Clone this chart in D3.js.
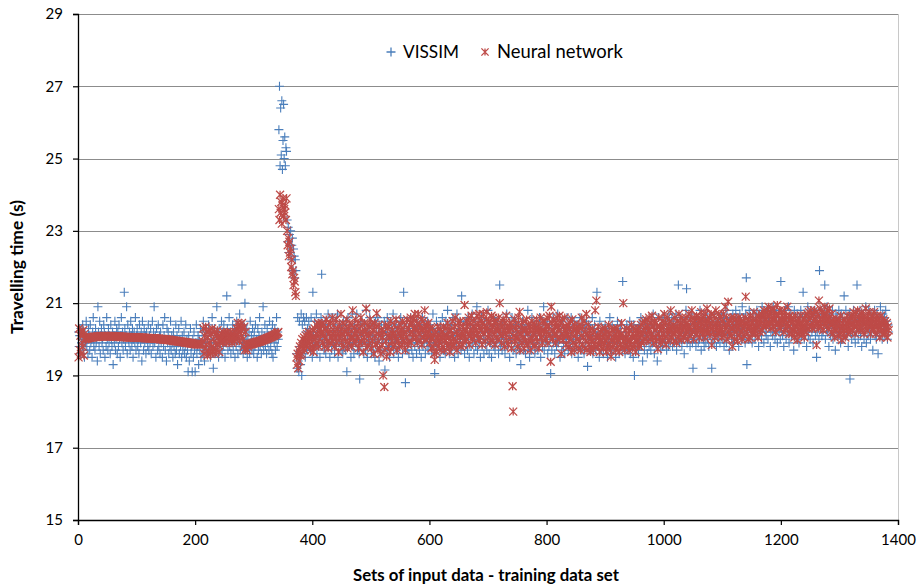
<!DOCTYPE html>
<html><head><meta charset="utf-8">
<script src="https://cdn.jsdelivr.net/npm/d3@7"></script>
<style>body{margin:0;background:#fff}svg{display:block}</style>
</head><body><svg id="chart" width="921" height="587"></svg>
<script>
// ---- data ----
const seriesNames = ["VISSIM", "Neural network"];
const xTicks = [0, 200, 400, 600, 800, 1000, 1200, 1400];
const yTicks = [15, 17, 19, 21, 23, 25, 27, 29];

const vissimA = [
20.2,19.8,20.1,19.6,20.3,19.9,20.0,20.4,19.7,20.1,19.5,20.2,19.9,20.5,19.8,20.0,19.6,20.3,20.1,19.7,
20.4,19.9,20.0,19.5,20.2,20.6,19.8,20.1,19.7,20.3,19.9,20.0,19.4,20.9,20.2,19.8,20.5,19.6,20.1,20.3,
19.9,20.0,19.7,20.4,20.2,19.5,20.1,19.8,20.6,20.0,19.7,20.3,19.9,20.1,19.6,20.4,20.0,19.8,20.2,19.3,
20.1,19.9,20.5,19.7,20.0,20.3,19.6,20.2,19.8,20.4,20.0,19.5,20.1,20.6,19.9,20.2,19.7,20.0,21.3,20.3,
19.8,20.1,20.9,19.6,20.4,20.0,19.9,20.2,19.7,20.5,20.1,19.8,20.3,19.5,20.0,20.2,19.9,20.6,19.7,20.1,
20.3,19.8,20.0,19.6,20.4,20.1,19.9,20.2,19.4,20.5,20.0,19.7,20.3,19.9,20.1,19.6,20.2,20.0,19.8,20.4,
19.7,20.1,19.9,20.3,19.6,20.0,20.5,19.8,20.2,20.9,19.9,20.1,19.5,20.3,20.0,19.7,20.4,19.8,20.1,19.6,
20.2,19.9,20.0,19.5,20.4,19.8,20.1,20.6,19.7,20.0,19.4,20.3,19.9,20.2,19.6,20.0,19.8,20.5,19.7,20.1,
19.9,19.5,20.2,19.8,20.0,19.6,20.4,19.7,20.1,19.3,19.9,20.3,19.6,20.0,19.8,20.5,19.5,20.1,19.7,19.9,
20.2,19.6,19.8,20.4,19.5,20.0,19.7,19.1,20.1,19.4,19.9,20.3,19.6,19.8,19.1,20.0,19.5,20.2,19.7,19.1,
19.9,20.4,19.6,19.8,20.1,19.3,20.0,19.7,20.3,19.5,19.9,20.2,19.6,20.5,19.8,19.4,20.1,19.9,20.3,19.6,
20.0,19.7,20.4,19.8,20.2,19.5,20.1,19.9,20.6,19.7,19.2,20.0,20.3,19.6,19.9,20.2,20.9,19.8,20.1,19.5,
20.3,19.9,20.0,19.7,20.5,19.6,20.2,19.8,20.4,20.0,19.5,20.1,19.9,21.2,20.3,19.7,20.0,20.6,19.8,20.2,
19.6,20.1,19.9,20.4,19.7,20.0,20.3,19.5,20.2,19.8,20.5,20.0,19.6,20.1,19.9,20.7,19.7,20.2,19.8,21.5,
20.0,19.6,20.4,19.9,21.0,19.7,20.1,20.3,19.5,20.0,19.8,20.2,19.6,20.5,19.9,20.1,19.7,20.3,20.0,19.6,
20.2,19.8,20.4,19.9,20.0,19.5,20.3,19.7,20.1,20.6,19.8,20.0,19.6,20.2,19.9,20.9,19.7,20.1,20.4,19.8,
20.0,19.6,20.3,19.9,20.1,19.7,20.5,20.0,19.8,20.2,19.6,20.4,19.5,20.1,19.9,20.3,19.7,20.0,20.6,19.8,
20.2,20.0];
const vissimPeak = [
25.8,27.0,24.8,26.4,25.1,26.6,24.7,25.5,26.5,25.0,25.6,24.8,25.3,25.2,
23.3,22.7,23.1,22.4,22.9,22.6,23.0,22.2,22.6,22.8,21.9,22.5,22.3,21.7,22.2,21.9,
19.6,19.2,20.6,19.4,19.1,20.5,19.8,19.3,20.7,19.0,20.4,19.6,20.6,19.9,20.5,19.5,20.2,20.6,19.7,20.3,20.0,20.5,19.8];
const vissimB = [
20.3,19.7,20.6,20.0,19.5,21.3,20.2,19.8,20.5,19.9,20.1,20.7,19.6,20.3,20.0,19.8,20.4,19.5,20.2,20.6,
21.8,19.9,20.1,20.4,19.7,20.0,20.5,19.6,20.2,19.9,20.3,20.7,19.8,20.1,19.5,20.4,20.0,19.7,20.6,20.2,
19.9,20.3,19.6,20.1,20.5,19.8,20.0,20.7,19.5,20.2,19.9,20.4,20.1,19.7,20.3,20.0,19.6,20.5,19.8,20.2,
20.0,19.7,20.4,19.1,20.1,20.6,19.8,20.3,19.9,20.0,19.5,20.2,20.7,19.8,20.1,19.6,20.4,20.0,19.9,20.3,
20.7,19.7,20.2,20.0,19.6,18.9,20.4,19.8,20.1,20.5,19.9,20.2,19.6,20.0,20.4,19.7,20.8,20.1,19.5,20.3,
19.9,20.2,20.6,19.8,20.0,19.6,20.4,20.1,19.7,20.3,20.0,19.5,20.5,19.9,20.2,19.8,20.6,20.0,19.4,20.3,
20.1,19.7,20.4,19.9,20.2,19.6,20.0,20.5,19.15,20.3,19.8,20.1,20.6,19.7,20.0,20.4,19.5,20.2,19.9,20.3,
19.8,20.1,20.7,19.6,20.0,20.3,19.9,20.5,19.7,20.2,20.0,19.5,20.4,19.8,20.1,20.6,19.9,20.2,19.6,20.0,
21.3,20.3,19.8,18.8,20.1,20.5,19.7,20.0,20.3,19.6,20.2,19.9,20.6,20.0,19.7,20.4,19.5,20.1,20.3,19.8,
20.2,20.0,19.6,20.5,19.9,20.3,20.1,19.7,20.4,20.0,19.5,20.2,20.6,19.8,20.1,19.9,20.4,19.6,20.3,20.0,
19.8,20.5,20.2,19.7,20.0,20.4,19.9,20.1,19.6,20.3,20.7,19.8,20.0,19.05,20.2,19.9,20.5,19.7,20.1,20.3,
19.9,20.2,19.5,20.4,20.0,19.8,20.6,20.1,19.7,20.3,20.0,19.6,20.5,19.9,20.2,20.8,19.8,20.1,19.6,20.4,
20.0,20.3,19.7,20.1,20.6,19.9,20.2,19.5,20.4,20.0,19.8,20.7,20.1,19.6,20.3,19.9,20.5,20.0,19.7,21.2,
20.2,19.8,20.4,20.0,19.6,20.5,20.1,19.9,20.3,19.7,20.6,20.0,19.5,20.2,20.4,19.8,20.1,20.7,19.9,20.3,
19.6,20.0,20.5,19.8,20.2,20.9,19.7,20.1,20.4,19.9,20.0,19.5,20.3,20.6,19.8,20.2,20.0,19.6,20.5,20.1,
19.9,20.3,19.7,20.0,20.8,20.2,19.6,20.4,19.9,20.1,19.5,20.3,20.0,20.6,19.8,20.2,19.7,20.5,20.0,19.9,
20.4,20.1,19.6,20.3,21.5,19.8,20.2,20.0,19.7,20.5,20.1,19.9,20.4,19.6,20.2,20.0,20.7,19.8,20.3,19.9,
20.1,19.5,20.4,20.0,19.8,20.6,20.2,19.7,20.3,19.9,20.0,20.5,19.6,20.2,20.1,19.8,20.4,20.0,19.7,20.3,
19.3,20.2,19.9,20.5,20.0,19.7,20.3,20.1,19.6,20.4,19.9,20.2,20.8,19.8,20.0,19.5,20.3,20.1,19.7,20.6,
20.0,19.9,20.2,20.4,19.6,20.1,19.8,20.5,20.0,19.7,20.3,19.9,20.6,20.1,19.5,20.2,20.0,19.8,20.4,20.9,
19.7,20.1,20.3,19.9,20.0,20.5,19.6,20.2,19.8,20.4,20.0,19.05,20.3,19.7,20.1,20.6,19.9,20.2,19.6,20.0,
20.4,19.8,20.1,20.7,19.9,20.3,20.0,19.5,20.2,20.5,19.7,20.0,20.4,19.8,20.1,19.6,20.3,20.0,19.9,20.6,
20.2,19.7,20.0,20.4,19.8,20.1,20.6,19.6,20.3,19.9,20.0,20.5,19.7,20.2,20.0,19.8,20.4,20.1,19.5,20.3,
19.9,20.6,20.0,19.7,20.2,20.4,19.8,20.1,19.6,20.3,20.0,19.9,20.5,20.2,19.25,20.0,20.4,19.7,20.1,20.3,
19.8,20.0,20.6,19.6,20.2,19.9,20.4,20.0,19.7,20.1,21.3,19.8,20.3,20.0,19.5,20.5,19.9,20.2,19.7,20.0,
20.3,19.6,20.1,19.9,20.4,19.7,20.0,20.2,19.5,20.3,19.9,20.1,20.6,19.8,20.0,19.6,20.4,19.9,20.2,19.7,
20.0,20.3,19.5,20.1,19.8,20.5,19.9,20.0,19.6,20.2,20.4,19.8,20.1,19.7,21.6,20.0,19.9,20.3,19.6,20.1,
19.8,20.4,20.0,19.7,20.2,19.9,20.5,19.6,20.0,20.3,19.8,20.1,19.5,20.4,19.0,19.9,20.2,20.0,19.7,20.3,
20.1,19.6,20.4,19.9,20.0,20.6,19.8,20.2,19.4,20.3,20.0,19.7,20.1,20.5,19.9,20.2,19.6,20.4,20.0,19.8,
20.3,20.1,19.7,20.5,20.0,19.9,20.7,20.2,19.6,20.4,20.0,19.8,20.3,19.4,20.1,20.6,19.9,20.2,20.0,19.7,
20.4,20.1,19.8,20.6,20.3,19.9,20.2,20.0,20.5,19.7,20.3,20.1,19.8,20.7,20.2,19.9,20.4,20.0,20.6,19.8,
20.2,20.5,19.9,20.3,20.1,20.7,19.7,20.4,20.0,21.5,20.2,19.9,20.6,20.1,20.3,19.8,20.5,20.0,20.2,19.6,
20.4,20.1,20.8,21.4,19.9,20.3,20.0,20.6,20.2,19.8,20.4,20.1,20.7,19.9,19.2,20.3,20.0,20.5,20.2,19.8,
20.6,20.1,20.3,19.9,20.5,20.0,20.8,20.2,19.7,20.4,20.1,20.6,20.0,19.8,20.3,20.5,19.9,20.2,20.7,20.0,
20.3,19.8,20.5,20.1,20.2,20.6,19.2,20.4,20.0,20.3,19.9,20.7,20.2,20.5,19.8,20.1,20.4,20.0,20.6,20.2,
19.9,20.4,20.1,20.7,20.3,20.0,20.5,19.8,20.6,20.2,20.4,19.9,20.8,20.1,20.3,20.5,19.7,20.4,20.2,20.6,
20.0,20.3,20.7,19.9,20.5,20.2,20.4,20.8,20.0,20.6,20.1,20.3,19.8,20.5,20.7,20.2,20.4,20.0,20.9,20.3,
20.6,20.1,20.4,19.9,20.7,21.7,19.3,20.2,20.5,20.0,20.8,20.3,20.6,20.1,20.4,19.9,20.7,20.2,20.5,20.3,
20.0,20.6,20.4,20.8,20.1,20.3,19.8,20.5,20.7,20.2,20.4,20.0,20.9,20.3,20.6,19.9,20.5,20.2,20.7,20.1,
20.4,20.8,20.0,20.6,20.3,20.5,19.8,20.2,20.7,20.4,20.1,20.9,20.3,20.6,20.0,20.5,20.2,20.8,19.9,20.4,
20.6,20.2,20.5,20.0,21.6,20.3,20.7,20.1,20.4,19.8,20.6,20.3,20.8,20.0,20.5,20.2,20.4,20.9,19.9,20.6,
20.3,20.7,20.1,20.5,20.2,20.4,19.7,20.8,20.3,20.6,20.0,20.4,20.7,20.2,20.5,19.9,20.6,20.3,20.8,20.1,
20.4,20.6,21.3,20.2,20.0,20.7,20.3,20.5,19.8,20.4,20.9,20.1,20.6,20.3,20.0,20.5,20.7,20.2,20.4,19.9,
20.6,20.3,20.8,20.1,20.5,19.5,20.2,20.7,20.4,20.0,21.9,20.6,20.3,20.8,20.1,20.5,20.2,20.7,20.4,21.5,
20.0,20.6,20.3,20.9,20.2,20.5,19.8,20.7,20.4,20.1,20.6,20.3,20.8,20.0,20.5,20.2,20.4,19.7,20.7,20.3,
20.6,20.1,20.4,20.8,20.2,20.5,19.9,20.7,20.3,20.6,20.0,20.4,21.2,20.2,20.5,20.8,20.1,20.3,20.6,19.8,
20.4,20.7,18.9,20.2,20.5,20.0,20.6,20.3,20.8,20.1,20.4,19.9,20.7,20.2,21.5,20.5,20.0,20.6,20.3,20.8,
20.1,20.4,19.8,20.6,20.3,20.7,20.0,20.5,20.2,20.9,19.9,20.4,20.6,20.1,20.8,20.3,20.5,20.0,20.7,20.2,
20.4,19.7,20.6,20.3,20.8,20.1,20.5,20.0,20.7,20.2,19.6,20.4,20.6,20.1,20.9,20.3,20.5,20.0,20.7,20.2,
20.4,20.6,20.1,20.8,20.3,20.5,20.0,20.4,20.2];

const nnA = [
19.5,20.3,19.7,20.1,19.6,20.2,19.9,19.8,20.25,19.55,20.15,20.0,
20.02,20.03,20.02,20.04,20.03,20.04,20.05,20.04,20.05,20.05,20.06,20.05,20.06,20.06,20.07,20.06,20.07,20.07,20.06,20.07,
20.08,20.07,20.08,20.07,20.08,20.08,20.09,20.08,20.08,20.09,20.08,20.09,20.08,20.09,20.09,20.08,20.09,20.08,20.09,20.08,
20.09,20.08,20.08,20.09,20.08,20.08,20.09,20.08,20.08,20.07,20.08,20.08,20.07,20.08,20.07,20.08,20.07,20.07,20.08,20.07,
20.07,20.06,20.07,20.07,20.06,20.07,20.06,20.06,20.07,20.06,20.06,20.05,20.06,20.06,20.05,20.06,20.05,20.05,20.06,20.05,
20.06,20.05,20.06,20.05,20.06,20.05,20.05,20.06,20.05,20.05,20.04,20.05,20.05,20.04,20.05,20.04,20.04,20.05,20.04,20.04,
20.04,20.03,20.04,20.03,20.04,20.03,20.03,20.04,20.03,20.03,20.02,20.03,20.03,20.02,20.03,20.02,20.02,20.03,20.02,20.02,
20.02,20.01,20.02,20.01,20.01,20.02,20.01,20.00,20.01,20.00,20.00,20.01,20.00,19.99,20.00,19.99,19.99,20.00,19.99,19.98,
19.99,19.98,19.98,19.99,19.98,19.97,19.98,19.97,19.97,19.96,19.97,19.96,19.96,19.95,19.96,19.95,19.95,19.94,19.95,19.94,
19.94,19.93,19.94,19.93,19.93,19.92,19.93,19.92,19.92,19.91,19.92,19.91,19.91,19.90,19.91,19.90,19.90,19.89,19.90,19.89,
19.89,19.88,19.89,19.88,19.88,19.87,19.88,19.87,19.87,19.86,19.87,19.86,19.86,19.87,19.86,19.86,19.87,19.86,19.86,19.87,
19.95,20.3,19.6,20.1,19.75,20.35,19.85,20.2,19.55,20.05,19.7,20.25,19.9,19.6,20.15,19.8,20.3,19.65,20.0,19.75,
20.2,19.6,19.9,20.1,19.7,20.25,19.85,20.05,19.65,19.95,
20.1,19.95,20.15,20.05,19.9,20.2,20.0,20.1,19.95,20.15,20.05,19.9,20.2,20.1,20.0,20.15,19.95,20.05,20.2,20.1,
19.9,20.0,20.15,20.05,19.95,20.1,20.2,20.0,
20.3,20.1,20.45,20.2,20.35,19.95,20.4,20.25,20.1,20.45,20.3,20.0,19.8,20.35,19.7,20.2,19.75,19.85,19.7,19.8,
19.84,19.86,19.85,19.87,19.86,19.88,19.87,19.89,19.88,19.9,19.89,19.91,19.9,19.92,19.91,19.93,19.92,19.94,19.93,19.95,
19.94,19.96,19.95,19.97,19.97,19.98,19.99,19.98,20.0,20.01,20.0,20.02,20.03,20.02,20.04,20.05,20.04,20.06,20.07,20.06,
20.08,20.09,20.1,20.09,20.11,20.12,20.13,20.14,20.15,20.17,20.18,20.2];
const nnPeak = [
23.6,23.3,24.0,23.5,23.8,23.2,23.7,23.9,23.4,23.6,23.5,23.7,23.3,23.9,
23.0,22.6,22.8,22.3,22.7,22.4,22.5,22.0,22.2,21.8,21.9,21.5,21.7,21.6,21.3,21.2,
19.5,19.3,19.6,19.2,19.7,19.4,19.8,19.55,19.9,19.6,20.0,19.75,19.85,20.05,19.7,19.95,20.1,19.8,20.15,19.9,20.05,20.2,19.95];
const nnB = [
19.85,20.15,19.7,20.05,19.8,20.25,19.65,20.0,20.3,19.8,20.05,20.4,19.9,20.15,20.45,19.8,20.25,20.0,20.4,20.15,
20.22,20.45,19.9,20.15,20.4,19.8,20.3,20.05,20.55,19.95,20.22,19.75,20.4,20.15,19.9,20.45,20.22,20.05,20.6,19.95,
20.15,20.4,19.8,20.22,20.05,20.55,19.9,20.3,20.15,19.65,20.4,20.05,20.22,20.7,19.9,20.15,20.45,19.8,20.22,20.05,
20.4,19.95,20.22,20.55,19.75,20.15,20.3,19.9,20.45,20.05,20.22,19.8,20.4,20.8,20.05,19.9,20.3,20.15,20.55,19.95,
20.22,20.05,20.45,19.75,20.3,19.9,20.15,20.6,19.95,20.4,20.22,19.65,20.05,20.45,19.9,20.22,20.85,20.15,19.8,20.4,
20.1,20.35,19.9,20.55,20.15,19.75,20.4,19.95,20.25,19.6,20.45,20.1,19.85,20.35,20.72,19.9,19.7,20.15,20.4,19.75,
20.1,19.6,20.25,19.85,20.05,19.0,20.2,18.68,19.7,20.4,19.95,19.52,20.3,20.1,19.8,20.35,20.05,19.65,20.5,20.1,
19.95,20.25,19.8,20.15,20.4,19.85,20.1,20.55,20.0,19.7,20.3,19.95,20.15,19.8,20.4,20.1,20.25,19.85,20.5,20.0,
20.15,19.9,20.4,19.7,20.2,20.05,20.55,19.85,20.3,19.95,20.4,20.15,20.6,19.9,20.45,20.2,20.05,20.55,20.3,20.7,
20.3,20.05,20.5,19.9,20.25,20.7,20.15,20.4,19.98,20.3,20.55,19.85,20.25,20.5,20.05,20.3,20.8,20.15,20.0,20.4,
20.35,20.05,20.45,20.2,19.9,20.3,20.1,19.75,20.0,20.3,19.8,20.1,19.6,19.43,19.9,20.2,19.65,20.05,20.35,19.8,
20.1,19.9,20.3,20.0,19.7,20.2,20.05,19.8,20.35,20.1,19.7,19.98,20.3,19.9,20.1,20.45,19.8,20.05,20.25,19.65,
19.95,20.25,19.8,20.1,20.5,20.0,19.85,20.35,20.6,19.95,20.2,19.7,20.1,20.45,19.85,20.3,20.05,20.5,19.8,20.1,
20.2,19.85,20.35,20.1,20.95,19.95,20.25,20.5,20.0,20.35,20.15,20.6,19.85,20.45,20.1,20.25,20.65,20.0,20.35,20.15,
20.5,20.1,20.3,19.9,20.25,20.65,20.15,20.45,20.0,20.7,20.3,20.05,20.5,20.25,19.85,20.45,20.7,20.15,20.35,19.95,
20.25,20.55,20.75,20.3,20.05,20.5,20.15,19.9,20.45,20.25,20.65,19.98,20.35,20.6,20.15,20.45,19.85,20.25,20.5,20.05,
20.35,20.0,20.6,20.25,21.0,20.15,20.45,19.9,20.35,20.1,20.55,20.25,19.8,20.45,20.15,20.65,19.98,20.35,20.25,19.85,
20.2,20.45,20.0,20.3,19.75,20.4,18.7,18.0,20.1,20.55,19.95,20.3,20.05,20.4,19.8,20.2,20.6,20.0,20.76,19.7,
20.15,20.4,19.9,20.25,20.05,20.5,19.75,20.3,19.95,20.25,20.55,19.85,20.15,20.4,19.95,20.25,19.7,20.35,20.05,20.5,
19.9,20.25,20.15,20.4,19.8,20.3,20.05,20.55,19.95,20.25,20.4,19.75,20.15,20.3,20.6,20.05,20.25,19.9,20.5,20.15,
20.25,20.5,20.0,20.35,20.2,20.6,19.9,20.35,20.15,20.65,20.1,19.38,20.9,20.45,20.0,20.25,20.55,20.15,20.35,19.9,
20.45,20.15,20.6,20.0,20.35,20.25,20.65,20.05,20.45,19.6,20.15,20.55,19.98,20.35,20.1,20.6,20.25,19.85,20.35,20.15,
20.1,20.4,19.8,20.3,20.0,20.5,19.65,20.15,20.55,19.9,20.25,19.7,20.4,20.1,19.85,20.3,20.0,20.2,19.75,20.4,
19.95,20.3,19.7,20.1,20.6,19.85,20.35,20.05,20.5,19.75,20.2,19.95,20.7,19.7,20.1,20.4,19.85,20.25,20.0,19.65,
20.1,19.8,20.3,19.98,19.7,20.2,19.85,20.8,20.05,21.07,19.8,20.1,20.35,19.85,20.05,19.65,20.2,19.95,19.8,20.3,
20.05,19.75,20.15,19.9,20.3,19.98,19.65,20.2,19.8,20.05,20.4,19.85,20.15,19.7,19.52,19.98,20.25,19.8,20.05,20.3,
19.9,20.15,19.7,20.05,20.3,19.8,19.98,20.2,19.65,20.05,19.85,20.15,20.45,19.8,20.05,21.0,19.95,19.7,20.25,19.85,
20.05,20.3,19.8,19.98,20.15,19.7,20.25,19.95,19.85,20.4,20.05,19.75,20.15,20.3,19.85,20.05,19.65,20.25,19.98,20.15,
19.85,20.3,20.05,19.8,20.2,20.4,19.9,20.1,20.45,19.95,20.25,20.5,20.0,20.3,20.55,20.1,20.4,19.95,20.25,20.6,
20.25,20.0,20.45,20.15,20.65,20.05,20.35,19.9,20.5,20.25,20.05,20.45,19.95,20.35,19.73,20.15,20.6,20.05,20.35,19.9,
20.25,20.5,19.98,20.35,20.15,20.7,20.05,20.45,19.85,20.25,20.6,20.15,20.35,19.98,20.5,20.25,20.8,20.05,20.35,20.15,
20.4,19.95,20.25,20.6,20.15,20.35,19.9,20.5,20.25,20.05,20.7,20.3,20.15,20.45,19.98,20.6,20.25,20.35,20.05,20.5,
20.1,20.35,20.6,20.2,20.45,20.0,20.3,20.7,20.35,20.1,20.55,20.25,20.8,20.2,20.45,20.0,20.6,20.35,20.5,20.25,
20.65,20.15,20.4,20.3,20.6,20.05,20.5,20.25,20.75,20.4,20.15,20.6,20.3,20.5,20.05,20.7,20.2,20.4,20.85,20.3,
20.5,20.2,20.6,20.1,20.4,20.7,19.84,20.3,20.5,20.2,20.65,20.05,20.4,20.8,20.3,20.1,20.5,20.2,20.7,20.4,
20.25,20.6,20.3,20.05,20.5,20.2,20.7,20.1,20.4,20.9,20.3,20.6,20.0,20.4,21.04,20.2,20.5,20.1,20.3,20.6,
20.1,19.8,20.45,20.3,20.6,20.0,20.35,20.55,20.2,20.45,19.95,20.3,20.6,20.1,20.4,20.55,20.2,20.45,20.0,20.3,
20.5,20.1,20.35,20.6,21.18,20.2,20.45,20.3,20.0,20.55,20.35,20.05,20.65,20.25,20.45,20.15,20.55,20.35,20.75,20.25,
20.4,20.15,20.55,20.3,20.45,20.05,20.65,20.4,20.2,20.55,20.45,20.7,20.25,20.65,20.35,20.8,20.55,20.4,20.7,20.35,
20.55,20.8,20.4,20.9,20.65,20.45,20.75,20.3,20.55,20.85,20.45,20.65,20.35,20.8,20.55,20.2,20.65,20.45,20.95,20.4,
20.65,20.45,20.8,20.3,20.55,20.75,20.4,20.65,20.5,20.2,20.8,20.55,20.3,20.65,20.45,20.9,20.35,20.6,20.15,20.65,
20.5,20.3,20.6,20.15,20.45,20.25,20.55,20.05,20.35,20.65,20.2,20.45,19.98,20.35,20.55,20.15,20.45,20.25,20.65,20.35,
20.15,20.45,20.25,20.55,20.05,20.35,20.65,20.2,20.45,20.7,20.3,20.55,20.75,20.35,20.6,20.8,20.4,20.65,20.3,20.7,
20.5,20.8,20.35,20.55,20.75,19.84,20.45,20.7,20.3,21.07,20.55,20.85,20.45,20.35,20.75,20.55,20.25,20.7,20.45,20.9,
20.6,20.4,20.7,20.5,20.8,20.3,20.6,20.85,20.4,20.5,20.2,20.7,20.4,20.15,20.55,20.3,20.05,20.45,20.25,20.55,
20.3,20.45,20.1,20.55,20.35,20.15,20.65,20.3,19.98,20.45,20.35,20.15,20.55,20.25,20.05,20.45,20.35,20.65,20.15,20.45,
20.3,20.5,20.2,20.6,20.4,20.65,20.25,20.45,20.75,20.35,20.55,20.15,20.7,20.45,20.35,20.8,20.25,20.55,20.45,20.65,
20.35,20.55,20.75,20.25,20.45,20.65,20.15,20.55,20.35,20.85,20.45,20.25,20.65,20.35,20.55,20.75,20.45,20.15,20.55,20.35,
20.65,20.45,20.25,20.75,20.35,20.55,20.15,20.45,20.65,20.35,20.25,20.55,20.45,20.05,20.35,20.65,20.25,20.45,20.15,20.55,
20.4,20.15,20.5,20.3,20.2,20.45,20.05,20.35,20.25];

// ---- assemble series ----
const vissim = vissimA.concat(vissimPeak, vissimB);
const nn = nnA.concat(nnPeak, nnB);
const toPoints = arr => arr.map((v, i) => ({set: i + 1, value: v}));
const series = [
  {name: seriesNames[0], points: toPoints(vissim), color: "#4A7EBB", kind: "plus"},
  {name: seriesNames[1], points: toPoints(nn), color: "#BE4B48", kind: "star"}
];

// ---- layout ----
const W = 921, H = 587;
const plot = {left: 78, right: 898, top: 14, bottom: 520};
const FONT = "Lato, 'Open Sans', 'DejaVu Sans', sans-serif";

const x = d3.scaleLinear().domain([0, 1400]).range([plot.left, plot.right]);
const y = d3.scaleLinear().domain([15, 29]).range([plot.bottom, plot.top]);

const svg = d3.select("#chart");
svg.append("rect").attr("width", W).attr("height", H).attr("fill", "#fff");

// gridlines
svg.append("g").selectAll("line").data(yTicks.filter(t => t !== 15)).join("line")
  .attr("x1", plot.left).attr("x2", plot.right)
  .attr("y1", d => Math.round(y(d)) + 0.5).attr("y2", d => Math.round(y(d)) + 0.5)
  .attr("stroke", "#8C8C8C").attr("stroke-width", 1.2);
// right border of plot area
svg.append("line").attr("x1", plot.right + 0.5).attr("x2", plot.right + 0.5)
  .attr("y1", plot.top).attr("y2", plot.bottom).attr("stroke", "#C8C8C8").attr("stroke-width", 1);

const symbols = {
  plus: s => `M${-s},0H${s}M0,${-s}V${s}`,
  star: s => `M${-s},${-s}L${s},${s}M${-s},${s}L${s},${-s}M0,${-s}V${s}`
};
const sizes = {plus: 4.5, star: 4};

series.forEach(sr => {
  svg.append("g").attr("class", "series").selectAll("path").data(sr.points).join("path")
    .attr("transform", d => `translate(${x(d.set)},${y(d.value)})`)
    .attr("d", symbols[sr.kind](sizes[sr.kind]))
    .attr("fill", "none").attr("stroke", sr.color).attr("stroke-width", sr.kind === "plus" ? 1.1 : 1.25);
});

// axes
const yAxis = svg.append("g").attr("transform", `translate(${plot.left},0)`)
  .call(d3.axisLeft(y).tickValues(yTicks).tickSize(5).tickPadding(10).tickFormat(d3.format("d")));
const xAxis = svg.append("g").attr("transform", `translate(0,${plot.bottom})`)
  .call(d3.axisBottom(x).tickValues(xTicks).tickSize(5).tickPadding(9).tickFormat(d3.format("d")));
[yAxis, xAxis].forEach(a => {
  a.selectAll(".domain").attr("stroke", "#000").attr("stroke-width", 1.3);
  a.selectAll(".tick line").attr("stroke", "#000").attr("stroke-width", 1.2);
  a.selectAll("text").attr("font-family", FONT).attr("font-size", 15).attr("fill", "#000");
});

// fit a text element's font size so that its rendered length matches a target width
function fitText(sel, target, base) {
  sel.attr("font-size", base);
  const len = sel.node().getComputedTextLength();
  if (len > 0) sel.attr("font-size", base * target / len);
}

// axis titles
const xTitle = svg.append("text").attr("x", 486).attr("y", 581).attr("text-anchor", "middle")
  .attr("font-family", FONT).attr("font-weight", "bold")
  .text("Sets of input data - training data set");
fitText(xTitle, 266, 16);
const yTitle = svg.append("text").attr("transform", "translate(23,267) rotate(-90)").attr("text-anchor", "middle")
  .attr("font-family", FONT).attr("font-weight", "bold")
  .text("Travelling time (s)");
fitText(yTitle, 134, 16);

// legend
const legend = svg.append("g");
const legendItems = [
  {name: seriesNames[0], kind: "plus", color: series[0].color, mx: 391, tx: 403, w: 56},
  {name: seriesNames[1], kind: "star", color: series[1].color, mx: 485, tx: 497, w: 126}
];
legendItems.forEach(it => {
  legend.append("path").attr("transform", `translate(${it.mx},52)`)
    .attr("d", symbols[it.kind](it.kind === "plus" ? 4.5 : 3.6))
    .attr("fill", "none").attr("stroke", it.color).attr("stroke-width", 1.3);
  const t = legend.append("text").attr("x", it.tx).attr("y", 58)
    .attr("font-family", FONT).attr("fill", "#000").text(it.name);
  fitText(t, it.w, 17);
});
</script>
</body></html>
